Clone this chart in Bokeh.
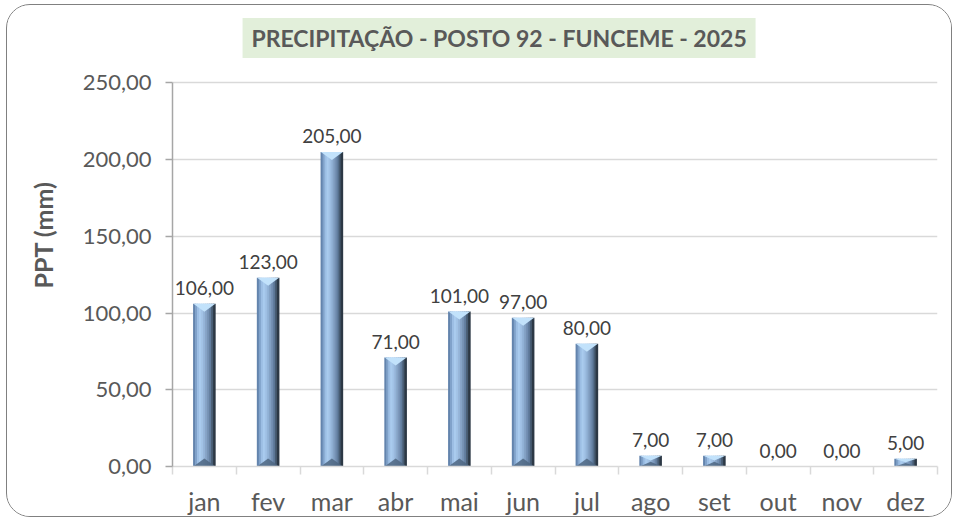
import math
from bokeh.plotting import figure
from bokeh.models import ColumnDataSource, FixedTicker, Range1d, CustomJSTickFormatter, Title
from bokeh.core.properties import value
from bokeh.embed import file_html
from bokeh.resources import INLINE

# ---- data ----
months = ["jan", "fev", "mar", "abr", "mai", "jun", "jul", "ago", "set", "out", "nov", "dez"]
ppt = [106, 123, 205, 71, 101, 97, 80, 7, 7, 0, 0, 5]
y_ticks = [0, 50, 100, 150, 200, 250]
title_text = "PRECIPITAÇÃO - POSTO 92 - FUNCEME - 2025"
y_title = "PPT (mm)"

FONT = "Lato"
TXT = "#595959"

# host placed at (6,4) with a 1.5px border -> canvas starts at about (7.5, 5.5)
OX, OY = 7.5, 5.5
W, H = 946, 513
PLOT_TOP, PLOT_BOTTOM = 83, 467      # page y of the 250 and 0 gridlines
FRAME_TOP = 10.5                     # frame extended upward to hold the title box
y_max = y_ticks[-1] * (PLOT_BOTTOM - FRAME_TOP) / (PLOT_BOTTOM - PLOT_TOP)
px_per_unit = (PLOT_BOTTOM - PLOT_TOP) / y_ticks[-1]

p = figure(width=W, height=H, output_backend="svg", toolbar_location=None,
           x_range=Range1d(0, len(months)), y_range=Range1d(0, y_max),
           min_border_left=round(171 - OX), min_border_right=round(OX + W - 937),
           min_border_top=round(FRAME_TOP - OY), min_border_bottom=round(OY + H - PLOT_BOTTOM))
p.styles = {"border": "1.5px solid #808080", "border-radius": "24px",
            "margin-left": "6px", "margin-top": "4px", "overflow": "hidden"}
p.outline_line_color = None
p.background_fill_color = "white"
p.border_fill_color = "white"

# y axis title (left)
p.add_layout(Title(text=y_title, align="left", offset=178, standoff=40, vertical_align="top",
                   text_font=FONT, text_font_style="bold", text_font_size="25px",
                   text_color=TXT), "left")

# grid
p.xgrid.grid_line_color = None
p.ygrid.grid_line_color = "#d9d9d9"
p.ygrid.grid_line_width = 1.5
p.ygrid.ticker = FixedTicker(ticks=y_ticks)

# y axis
p.yaxis.ticker = FixedTicker(ticks=y_ticks)
p.yaxis.bounds = (y_ticks[0], y_ticks[-1])
p.yaxis.formatter = CustomJSTickFormatter(code="return tick.toFixed(2).replace('.', ',');")
p.yaxis.axis_line_color = "#a6a6a6"
p.yaxis.axis_line_width = 1.5
p.yaxis.major_tick_line_color = "#a6a6a6"
p.yaxis.major_tick_line_width = 1.5
p.yaxis.major_tick_out = 7
p.yaxis.major_tick_in = 0
p.yaxis.minor_tick_line_color = None
p.yaxis.major_label_text_font = FONT
p.yaxis.major_label_text_font_size = "22px"
p.yaxis.major_label_text_color = TXT
p.yaxis.major_label_standoff = 14

# x axis: labels at centres, ticks at boundaries
centers = [i + 0.5 for i in range(len(months))]
p.xaxis.ticker = FixedTicker(ticks=centers, minor_ticks=list(range(len(months) + 1)))
p.xaxis.major_label_overrides = {c: m for c, m in zip(centers, months)}
p.xaxis.axis_line_color = "#d9d9d9"
p.xaxis.axis_line_width = 1.5
p.xaxis.major_tick_line_color = None
p.xaxis.minor_tick_line_color = "#d9d9d9"
p.xaxis.minor_tick_line_width = 1.5
p.xaxis.minor_tick_out = 8
p.xaxis.minor_tick_in = 0
p.xaxis.major_label_text_font = FONT
p.xaxis.major_label_text_font_size = "25px"
p.xaxis.major_label_text_color = TXT
p.xaxis.major_label_standoff = 11

# chart title box (inside the extended frame, above the 250 line)
frame_w = 937 - 171
t_x = (498 - 171) / frame_w * len(months)
t_y = (PLOT_BOTTOM - 38) / px_per_unit
p.rect(x=[t_x], y=[t_y], width=513, height=40, width_units="screen", height_units="screen",
       fill_color="#e2efda", line_color=None)
p.text(x=[t_x], y=[t_y], text=[title_text], text_align="center", text_baseline="middle",
       text_font=value(FONT), text_font_style="bold", text_font_size="23px", text_color=TXT)

# bars: bevelled gradient built from strips
bar_w = 0.345
strip_colors = ["#6384ad", "#80a2ca", "#9cbee4", "#a9cbee", "#a1c2e6", "#94b4d8",
                "#85a3c6", "#7591b4", "#617d9e", "#475c73", "#2c3845"]
n = len(strip_colors)
sw = bar_w / n
for k, col in enumerate(strip_colors):
    off = -bar_w / 2 + sw * (k + 0.5)
    p.vbar(x=[c + off for c in centers], top=ppt, bottom=0, width=sw * 1.3,
           fill_color=col, line_color=None)

bev = 8 / px_per_unit
tri_x, tri_y, bot_x, bot_y = [], [], [], []
for c, v in zip(centers, ppt):
    if v <= 0:
        continue
    h = min(bev, v * 0.45)
    tri_x.append([c - bar_w / 2, c + bar_w / 2, c])
    tri_y.append([v, v, v - h])
    bot_x.append([c - bar_w / 2, c + bar_w / 2, c])
    bot_y.append([0, 0, h])
p.patches(tri_x, tri_y, fill_color="#c2e2fb", line_color=None)
p.patches(bot_x, bot_y, fill_color="#4e6681", line_color=None, fill_alpha=0.85)

# value labels
src = ColumnDataSource(dict(x=centers, y=ppt,
                            t=[f"{v:.2f}".replace(".", ",") for v in ppt]))
p.text(x="x", y="y", text="t", source=src, text_align="center", text_baseline="bottom",
       y_offset=-9, text_font=value(FONT), text_font_size="19px", text_color="#404040")

open("out.html", "w").write(file_html(p, INLINE))
